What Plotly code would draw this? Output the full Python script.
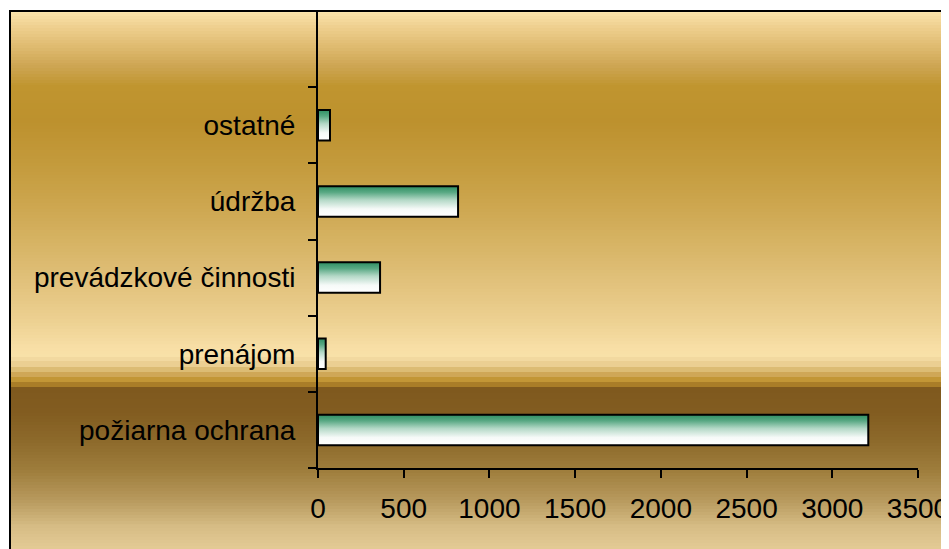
import plotly.graph_objects as go

# ---- data ----
categories = ["požiarna ochrana", "prenájom", "prevádzkové činnosti", "údržba", "ostatné"]
values = [3210, 45, 362, 817, 70]
x_ticks = [0, 500, 1000, 1500, 2000, 2500, 3000, 3500]

# ---- layout geometry (figure pixels; page has an 8px body margin) ----
OFF = 8
W, H = 949 - OFF, 549 - OFF
L = 318 - OFF
T = 11 - OFF
PLOT_R = 918 - OFF
PLOT_B = 468 - OFF
R = W - PLOT_R
B = H - PLOT_B
PW = PLOT_R - L
PH = PLOT_B - T


def px2paper_x(px):  # px given in page coordinates
    return (px - OFF - L) / PW


def py2paper_y(py):  # py given in page coordinates
    return (PLOT_B - (py - OFF)) / PH


# background colour stops (page pixel y, colour)
bg_stops = [
    (10, "#fbe4ac"), (25, "#efd090"), (45, "#dfbb70"), (65, "#cda552"),
    (85, "#c0952f"), (120, "#bd912e"), (160, "#c39a3b"), (200, "#cca54d"),
    (240, "#d6b363"), (280, "#e1c17b"), (320, "#edd192"), (345, "#f7dea5"),
    (357, "#f9e2a9"),
]
bg_bands = [
    (357, 361, "#f2d9a0"), (361, 367, "#ebcf92"), (367, 372, "#dcbc74"),
    (372, 377, "#cfa757"), (377, 382, "#c29636"), (382, 387, "#a97d28"),
]
bg_stops2 = [
    (387, "#7f591e"), (410, "#825c20"), (440, "#8d6a2b"), (470, "#9f7e3d"),
    (500, "#b99b5f"), (525, "#d6bc85"), (565, "#efd7a2"),
]


def hex2rgb(h):
    h = h.lstrip("#")
    return tuple(int(h[i:i + 2], 16) for i in (0, 2, 4))


def mix(c1, c2, t):
    a, b = hex2rgb(c1), hex2rgb(c2)
    return "rgb(%d,%d,%d)" % tuple(round(a[i] + (b[i] - a[i]) * t) for i in range(3))


shapes = []


def add_band(y0, y1, color):
    shapes.append(dict(type="rect", xref="paper", yref="paper",
                       x0=px2paper_x(9), x1=px2paper_x(W + 40),
                       y0=py2paper_y(y1), y1=py2paper_y(y0),
                       fillcolor=color, line=dict(width=0), layer="below"))


def add_gradient(stops, step=3):
    for (ya, ca), (yb, cb) in zip(stops[:-1], stops[1:]):
        y = ya
        while y < yb:
            y2 = min(y + step, yb)
            add_band(y, y2 + 0.6, mix(ca, cb, (y - ya) / (yb - ya)))
            y = y2


add_gradient(bg_stops)
for y0, y1, c in bg_bands:
    add_band(y0, y1 + 0.6, c)
add_gradient(bg_stops2)

# outer border (right and bottom edges fall outside the visible page)
shapes.append(dict(type="rect", xref="paper", yref="paper",
                   x0=px2paper_x(10), x1=px2paper_x(W + 40),
                   y0=py2paper_y(H + 40), y1=py2paper_y(11),
                   fillcolor="rgba(0,0,0,0)", line=dict(color="black", width=2),
                   layer="above"))

fig = go.Figure()

half = 0.2
for i, (cat, v) in enumerate(zip(categories, values)):
    fig.add_trace(go.Scatter(
        x=[0, v, v, 0, 0],
        y=[i - half, i - half, i + half, i + half, i - half],
        mode="lines",
        fill="toself",
        fillgradient=dict(type="vertical",
                          colorscale=[[0, "#ffffff"], [0.25, "#f6faf8"],
                                      [0.55, "#b3d8c6"], [0.8, "#58a883"],
                                      [1, "#2f8f63"]]),
        line=dict(color="black", width=2),
        name=cat,
        hoverinfo="text",
        text=f"{cat}: {v}",
        showlegend=False,
    ))

font = dict(family="Liberation Sans, Arial, sans-serif", size=28, color="black")

fig.update_layout(
    width=W, height=H,
    margin=dict(l=L, r=R, t=T, b=B, pad=0),
    paper_bgcolor="white",
    plot_bgcolor="rgba(0,0,0,0)",
    font=font,
    shapes=shapes,
    showlegend=False,
    xaxis=dict(range=[0, 3500], tickvals=x_ticks, ticktext=[str(t) for t in x_ticks],
               showgrid=False, zeroline=False, showline=True, linecolor="black",
               linewidth=2, ticks="outside", ticklen=8, tickwidth=2,
               tickcolor="black", ticklabelstandoff=6, tickfont=font,
               ticklabeloverflow="allow", automargin=False),
    yaxis=dict(range=[-0.5, 5.5], tickvals=list(range(len(categories))),
               ticktext=categories, showgrid=False, zeroline=False,
               showline=True, linecolor="black", linewidth=2, ticks="",
               ticklabelstandoff=15, tickfont=font, automargin=False,
               minor=dict(tickvals=[k - 0.5 for k in range(len(categories) + 2)],
                          ticks="outside", ticklen=8, tickwidth=2,
                          tickcolor="black", showgrid=False)),
)

fig.write_html("out.html")
